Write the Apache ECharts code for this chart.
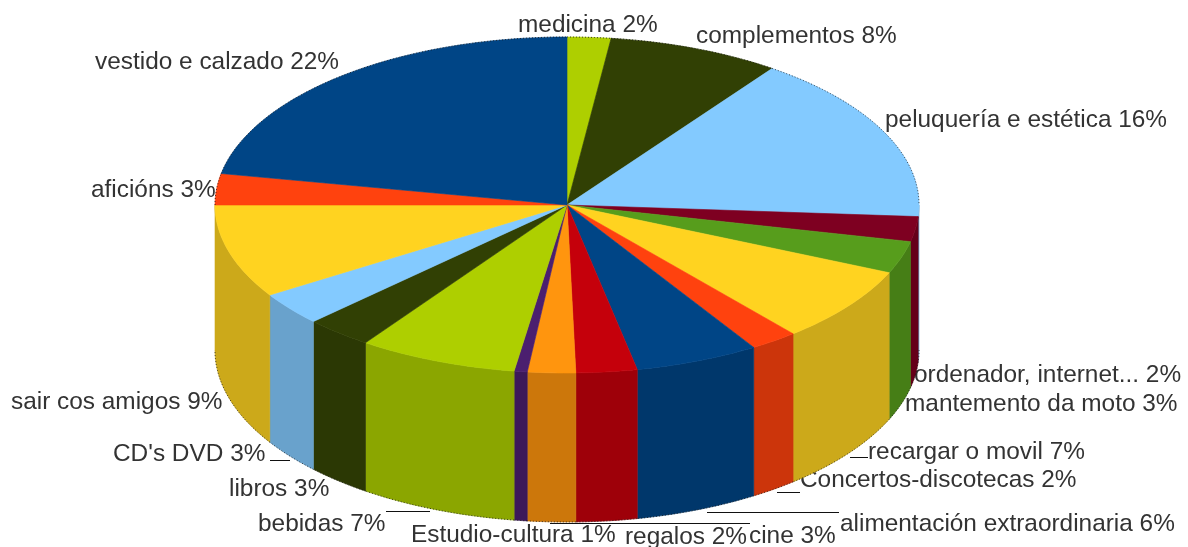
<!DOCTYPE html>
<html>
<head>
<meta charset="utf-8">
<title>gastos</title>
<style>
html, body { margin: 0; padding: 0; background: #fff; }
#chart { width: 1188px; height: 547px; }
</style>
<script src="https://cdn.jsdelivr.net/npm/echarts@6/dist/echarts.min.js"></script>
</head>
<body>
<div id="chart"></div>
<script>
var categories = ["medicina", "complementos", "peluquería e estética", "ordenador, internet...", "mantemento da moto", "recargar o movil", "Concertos-discotecas", "alimentación extraordinaria", "cine", "regalos", "Estudio-cultura", "bebidas", "libros", "CD's DVD", "sair cos amigos", "aficións", "vestido e calzado"];
var shares = [2.0, 7.9, 16.2, 2.4, 3.1, 7.3, 2.2, 5.7, 2.8, 2.2, 0.6, 7.3, 3.1, 3.2, 9.0, 3.0, 22.0];

// colores de las porciones, mismo orden que categories
var colors = ["#aecf00", "#314004", "#83caff", "#7e0021", "#579d1c", "#ffd320", "#ff420e", "#004586", "#c5000b", "#ff950e", "#4b1f6f", "#aecf00", "#314004", "#83caff", "#ffd320", "#ff420e", "#004586"];
var wallColors = ["#8ba600", "#2b3804", "#69a2cc", "#65001a", "#467e16", "#cca91a", "#cc350b", "#00376b", "#9e0009", "#cc770b", "#3c1959", "#8ba600", "#2b3804", "#69a2cc", "#cca91a", "#cc350b", "#00376b"];

// sitio de cada etiqueta (izquierda, centro vertical)
var labelX = [518, 696, 885, 914, 905, 868, 800, 840, 749, 625, 411, 258, 229, 113, 11, 91, 95];
var labelY = [25, 36, 120, 375, 404, 452, 480, 524, 536, 537, 535, 524, 489, 454, 402, 190, 62];

// lineas guia
var leaderLines = [[270, 460.5, 290, 460.5], [386, 511.5, 430, 511.5], [550, 523.5, 750, 523.5], [707, 512.5, 839, 512.5], [777, 492.5, 800, 492.5], [850, 457.5, 868, 457.5]];

var cx = 567, topCy = 205, rx = 352, topRy = 168, bottomCy = 350, bottomRy = 172;
var fontName = '"Liberation Sans", Arial, sans-serif';

var total = 0;
for (var i = 0; i < shares.length; i++) total += shares[i];
var sliceData = [];
var acc = 0;
for (var i = 0; i < shares.length; i++) {
    sliceData.push([acc / total * 360, (acc + shares[i]) / total * 360, i]);
    acc += shares[i];
}

function ellipsePoint(deg, cy, ry) {
    var t = deg * Math.PI / 180;
    return [cx + rx * Math.sin(t), cy - ry * Math.cos(t)];
}

function arcPoints(from, to, cy, ry) {
    var pts = [];
    var n = Math.max(2, Math.ceil(to - from));
    for (var k = 0; k <= n; k++) {
        pts.push(ellipsePoint(from + (to - from) * k / n, cy, ry));
    }
    return pts;
}

function edgeLine(pts) {
    return {
        type: 'polyline',
        shape: { points: pts },
        style: { fill: null, stroke: '#111', lineWidth: 1, lineDash: [1, 2], opacity: 0.75 },
        silent: true
    };
}

function renderSlice(params, api) {
    var start = api.value(0), end = api.value(1), idx = api.value(2);
    var color = colors[idx];
    var children = [];
    // pared frontal, solo entre 90 y 270 grados
    var wallFrom = Math.max(start, 90), wallTo = Math.min(end, 270);
    if (wallTo > wallFrom) {
        var bottomArc = arcPoints(wallFrom, wallTo, bottomCy, bottomRy);
        var wallPts = arcPoints(wallFrom, wallTo, topCy, topRy).concat(bottomArc.slice().reverse());
        children.push({
            type: 'polygon',
            shape: { points: wallPts },
            style: { fill: wallColors[idx], stroke: wallColors[idx], lineWidth: 0.6 }
        });
        children.push(edgeLine(bottomArc));
    }
    var topPts = [[cx, topCy]].concat(arcPoints(start, end, topCy, topRy));
    children.push({
        type: 'polygon',
        shape: { points: topPts },
        style: { fill: color, stroke: color, lineWidth: 0.6 }
    });
    // borde de atras
    if (start < 90) children.push(edgeLine(arcPoints(start, Math.min(end, 90), topCy, topRy)));
    if (end > 270) children.push(edgeLine(arcPoints(Math.max(start, 270), end, topCy, topRy)));
    return { type: 'group', children: children };
}

function renderLabel(params, api) {
    var idx = api.value(0);
    return {
        type: 'text',
        style: {
            text: categories[idx] + ' ' + Math.round(shares[idx]) + '%',
            x: labelX[idx],
            y: labelY[idx],
            align: 'left',
            verticalAlign: 'middle',
            fill: '#333',
            font: '24.4px ' + fontName
        }
    };
}

function renderLeader(params, api) {
    var l = leaderLines[api.value(0)];
    return {
        type: 'line',
        shape: { x1: l[0], y1: l[1], x2: l[2], y2: l[3] },
        style: { stroke: '#111', lineWidth: 1 }
    };
}

var myChart = echarts.init(document.getElementById('chart'));
var option = {
    backgroundColor: '#fff',
    animation: false,
    series: [{
        type: 'custom',
        coordinateSystem: 'none',
        z: 1,
        renderItem: renderLabel,
        data: categories.map(function(c, i) { return [i]; })
    }, {
        type: 'custom',
        coordinateSystem: 'none',
        z: 2,
        renderItem: renderLeader,
        data: leaderLines.map(function(l, i) { return [i]; })
    }, {
        type: 'custom',
        coordinateSystem: 'none',
        z: 3,
        renderItem: renderSlice,
        data: sliceData
    }]
};
myChart.setOption(option);
</script>
</body>
</html>
